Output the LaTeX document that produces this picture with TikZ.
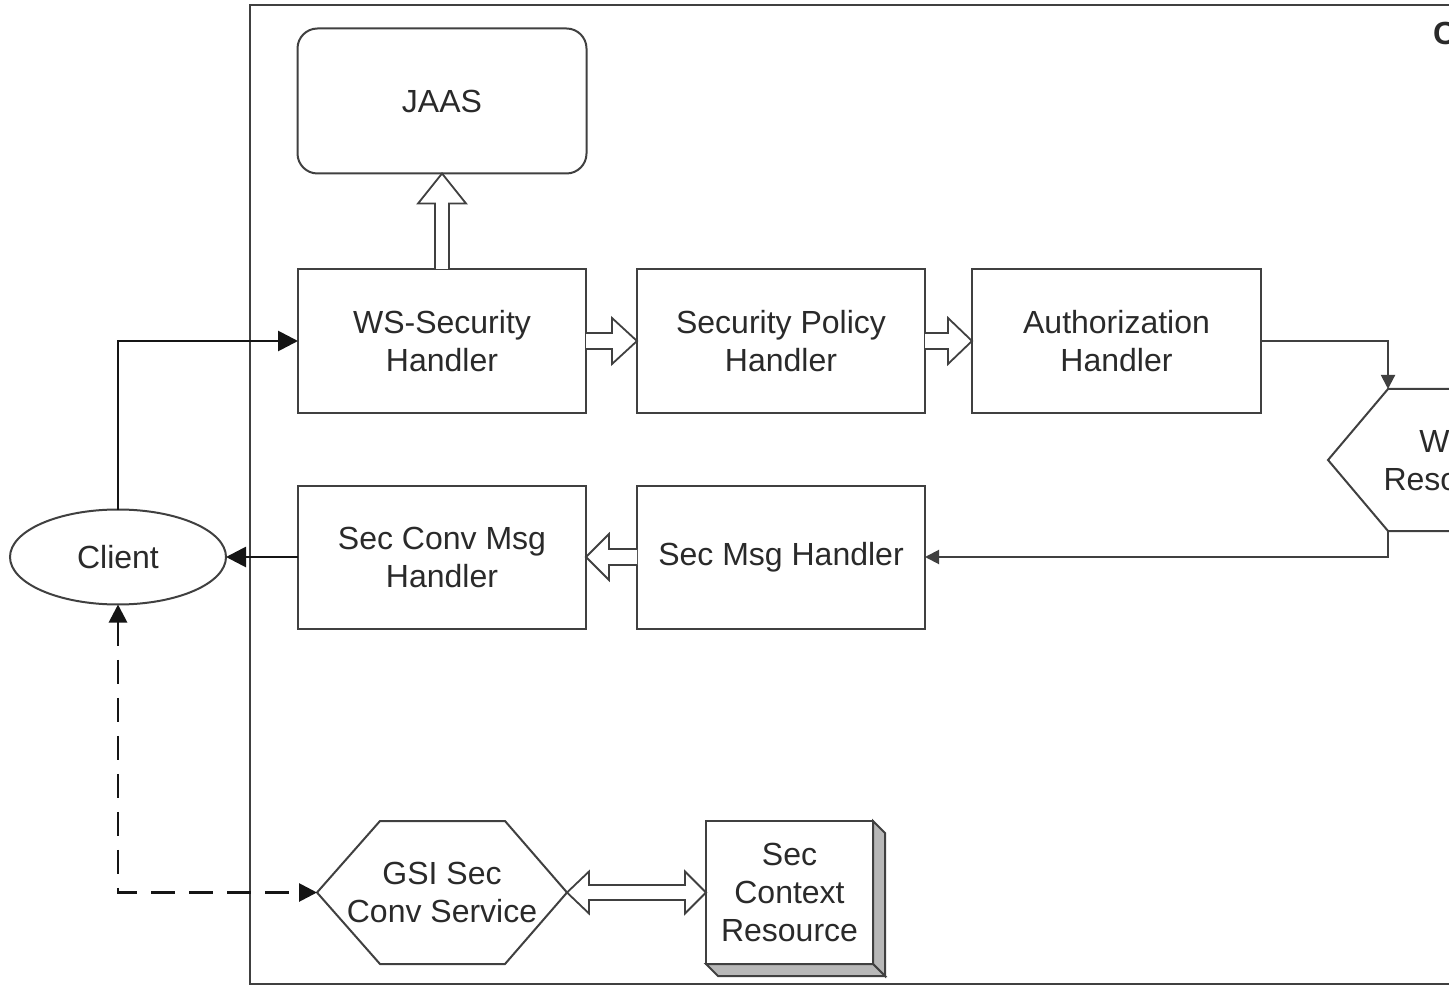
\documentclass[tikz,border=0pt]{standalone}
\usepackage{fontspec}
\setmainfont{Liberation Sans}
\usetikzlibrary{arrows.meta,calc,shapes.geometric}
\definecolor{ln}{HTML}{404040}
\definecolor{dk}{HTML}{151515}
\definecolor{tx}{HTML}{2A2A2A}
\definecolor{sh}{HTML}{B8B8B8}
\begin{document}
\begin{tikzpicture}[x=0.5pt,y=-0.5pt,
  every node/.style={outer sep=0pt, inner sep=0pt, text=tx, font=\fontsize{16}{19}\selectfont, align=center},
  box/.style={draw=ln, line width=1pt, fill=white, minimum width=144pt, minimum height=72pt},
  ghost/.style={minimum width=125pt, minimum height=71.5pt},
  shapeline/.style={draw=ln, line width=1pt, line join=miter},
  hollow/.style={draw=ln, line width=0.9pt, fill=white, line join=miter},
  conn/.style={draw=dk, line width=1.4pt, -{Triangle[length=10pt,width=10pt]}},
  thinconn/.style={draw=ln, line width=1pt, -{Triangle[length=7pt,width=7pt]}},
  dconn/.style={draw=dk, line width=1.4pt, dash pattern=on 12pt off 7pt,
     {Triangle[length=9pt,width=9pt]}-{Triangle[length=9pt,width=9pt]}}
]
\useasboundingbox (0,0) rectangle (1449,988);
\clip (0,0) rectangle (1449,988);

% container frame
\draw[draw=ln, line width=1.4pt] (250,5) rectangle (1540,984);
\node[anchor=west, font=\bfseries\fontsize{16}{19}\selectfont] (ctitle) at (1433,33) {C};

% boxes
\node[box, rounded corners=10pt, minimum width=144.5pt, minimum height=72.5pt] (jaas) at (442,101) {JAAS};
\node[box] (ws) at (442,341) {WS-Security\\Handler};
\node[box] (sp) at (781,341) {Security Policy\\Handler};
\node[box, minimum width=144.5pt] (az) at (1116.5,341) {Authorization\\Handler};
\node[box, minimum height=71.5pt] (scm) at (442,557) {Sec Conv Msg\\Handler};
\node[box, minimum height=71.5pt] (sm) at (781,557) {Sec Msg Handler};

% client
\node[draw=ln, line width=1pt, ellipse, fill=white, minimum width=108pt, minimum height=47.5pt] (client) at (118,557) {Client};

% W resource hexagon (cut off at right)
\node[ghost, minimum width=124pt, minimum height=71pt] (wres) at (1452,460) {Web\\Resource};
\coordinate (wtl) at ($(wres.north west)+(60,0)$);
\coordinate (wbl) at ($(wres.south west)+(60,0)$);
\draw[shapeline] (wres.west) -- (wtl) -- ($(wres.north east)+(-60,0)$) -- (wres.east)
  -- ($(wres.south east)+(-60,0)$) -- (wbl) -- cycle;

% GSI hexagon
\node[ghost] (gsi) at (442,892.5) {GSI Sec\\Conv Service};
\draw[shapeline] (gsi.west) -- ($(gsi.north west)+(63,0)$) -- ($(gsi.north east)+(-62,0)$) -- (gsi.east)
  -- ($(gsi.south east)+(-62,0)$) -- ($(gsi.south west)+(63,0)$) -- cycle;

% Sec Context Resource (3D box)
\node[box, minimum width=83.5pt, minimum height=71.5pt] (secctx) at (789.5,892.5) {Sec\\Context\\Resource};
\filldraw[fill=sh, draw=ln, line width=1pt, line join=miter] (secctx.north east) -- ++(12,12)
  -- ($(secctx.south east)+(12,12)$) -- (secctx.south east) -- cycle;
\filldraw[fill=sh, draw=ln, line width=1pt, line join=miter] (secctx.south west) -- ++(12,12)
  -- ($(secctx.south east)+(12,12)$) -- (secctx.south east) -- cycle;

% hollow arrows
\draw[hollow] ($(ws.east)+(0,-8)$) -- ($(sp.west)+(-25,-8)$) -- ($(sp.west)+(-25,-23)$) -- (sp.west)
  -- ($(sp.west)+(-25,23)$) -- ($(sp.west)+(-25,8)$) -- ($(ws.east)+(0,8)$);
\draw[hollow] ($(sp.east)+(0,-8)$) -- ($(az.west)+(-24,-8)$) -- ($(az.west)+(-24,-23)$) -- (az.west)
  -- ($(az.west)+(-24,23)$) -- ($(az.west)+(-24,8)$) -- ($(sp.east)+(0,8)$);
\draw[hollow] ($(sm.west)+(0,-8)$) -- ($(scm.east)+(23,-8)$) -- ($(scm.east)+(23,-23)$) -- (scm.east)
  -- ($(scm.east)+(23,23)$) -- ($(scm.east)+(23,8)$) -- ($(sm.west)+(0,8)$);
\draw[hollow] ($(ws.north)+(-7,0)$) -- ($(jaas.south)+(-7,30)$) -- ($(jaas.south)+(-24,30)$) -- (jaas.south)
  -- ($(jaas.south)+(24,30)$) -- ($(jaas.south)+(7,30)$) -- ($(ws.north)+(7,0)$);
\draw[hollow] (gsi.east) -- ++(22,-21) -- ++(0,13.5) -- ($(secctx.west)+(-21,-7.5)$) -- ++(0,-13.5)
  -- (secctx.west) -- ++(-21,21) -- ++(0,-13.5) -- ($(gsi.east)+(22,7.5)$) -- ++(0,13.5) -- cycle;

% connectors
\draw[conn] (client.north) |- (ws.west);
\draw[conn] (scm.west) -- (client.east);
\draw[dconn] (client.south) |- (gsi.west);
\draw[thinconn] (az.east) -| (wtl);
\draw[thinconn] (wbl) |- (sm.east);
\end{tikzpicture}
\end{document}
